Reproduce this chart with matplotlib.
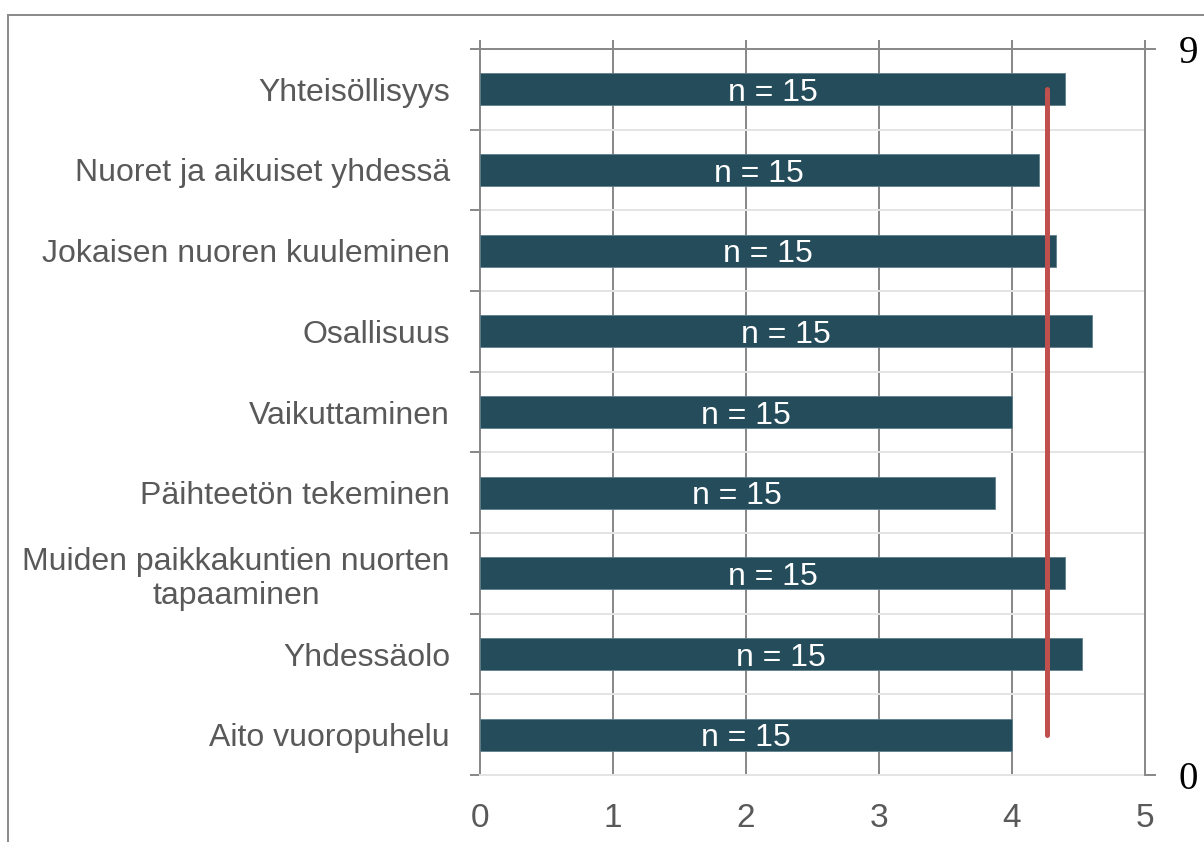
import numpy as np
import matplotlib
matplotlib.use("Agg")
import matplotlib.pyplot as plt
from matplotlib.lines import Line2D

plt.rcParams['font.family'] = ['Liberation Sans', 'DejaVu Sans']

categories = [
    "Yhteisöllisyys",
    "Nuoret ja aikuiset yhdessä",
    "Jokaisen nuoren kuuleminen",
    "Osallisuus",
    "Vaikuttaminen",
    "Päihteetön tekeminen",
    "Muiden paikkakuntien nuorten\ntapaaminen",
    "Yhdessäolo",
    "Aito vuoropuhelu",
]
scores = [4.40, 4.20, 4.33, 4.60, 4.00, 3.87, 4.40, 4.53, 4.00]
n_counts = [15, 15, 15, 15, 15, 15, 15, 15, 15]
x_ticks = [0, 1, 2, 3, 4, 5]

# average line, drawn on the secondary 0..9 axis
avg_score = 4.26
avg_line_y = [0.5, 8.5]
sec_ticks = [0, 9]

bar_color = '#244C5A'
grid_dark = '#8a8a8a'
grid_light = '#e4e4e4'
text_gray = '#595959'
px = 0.72  # points per pixel at dpi 100

fig = plt.figure(figsize=(12.04, 8.42), dpi=100)
ax = fig.add_axes([480 / 1204, 1 - 775 / 842, 665 / 1204, 726 / 842])

ypos = np.arange(len(categories))
bars = ax.barh(ypos, scores, height=0.4, color=bar_color,
               edgecolor='#5f7f8b', linewidth=0.6, zorder=3)
labels = ax.bar_label(bars, labels=[f"n = {n}" for n in n_counts], label_type='center',
                      color='white', fontsize=23)
for t in labels:
    t.set_va('center_baseline')

ax.set_xlim(0, 5)
ax.set_ylim(len(categories) - 0.5, -0.5)
ax.set_xticks(x_ticks)
ax.set_yticks(ypos)
ax.set_yticklabels(categories, fontsize=23, color=text_gray, multialignment='center')
ax.set_yticks(np.arange(-0.5, len(categories)), minor=True)

ax.set_axisbelow(True)
ax.grid(axis='x', which='major', color=grid_dark, linewidth=2 * px)
ax.grid(axis='y', which='minor', color=grid_light, linewidth=2 * px)
ax.grid(axis='y', which='major', visible=False)

ax.tick_params(axis='y', which='major', length=0, pad=30 * px)
ax.tick_params(axis='y', which='minor', length=10 * px, width=2 * px, color=grid_dark,
               direction='out')
ax.tick_params(axis='x', which='major', bottom=False, top=True, labelbottom=True,
               labeltop=False, length=9 * px, width=2 * px, color=grid_dark,
               direction='out', pad=19 * px, labelsize=24, labelcolor=text_gray)

for side in ['left', 'right', 'top']:
    ax.spines[side].set_color(grid_dark)
    ax.spines[side].set_linewidth(2 * px)
ax.spines['bottom'].set_color(grid_light)
ax.spines['bottom'].set_linewidth(2 * px)

ax2 = ax.twinx()
ax2.set_ylim(0, 9)
ax2.set_yticks(sec_ticks)
ax2.set_yticklabels([str(t) for t in sec_ticks], family='Liberation Serif',
                    fontsize=28, color='black')
ax2.tick_params(axis='y', length=11 * px, width=2 * px, color=grid_dark, pad=23 * px)
for side in ['left', 'top', 'bottom']:
    ax2.spines[side].set_visible(False)
ax2.spines['right'].set_color(grid_dark)
ax2.spines['right'].set_linewidth(2 * px)
ax2.plot([avg_score, avg_score], avg_line_y, color='#C0504D', linewidth=5 * px,
         solid_capstyle='round', zorder=5)

# outer frame (top and left edges visible)
fig.add_artist(Line2D([8 / 1204, 8 / 1204], [0, 1 - 15 / 842], color='#8c8c8c',
                      linewidth=2 * px, transform=fig.transFigure))
fig.add_artist(Line2D([8 / 1204, 1], [1 - 15 / 842, 1 - 15 / 842], color='#8c8c8c',
                      linewidth=2 * px, transform=fig.transFigure))

fig.savefig('out.png', dpi=100)
